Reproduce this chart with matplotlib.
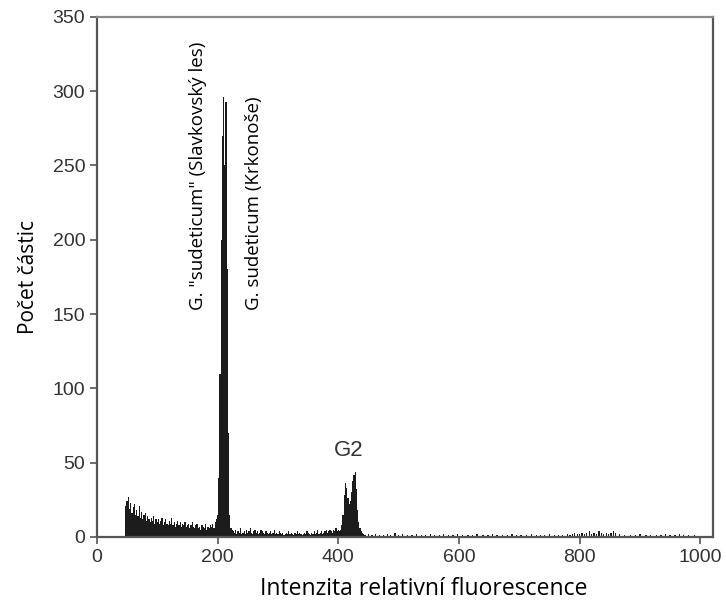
import numpy as np
import matplotlib.pyplot as plt

# histogram counts, channel step of 2
left_start = 48
left_counts = [21, 24, 27, 19, 23, 16, 20, 22, 15, 18, 14, 21, 13, 17, 12, 15, 16, 11, 14, 12,
               10, 13, 11, 14, 9, 12,
               10, 12, 9, 11, 13, 8, 10, 12, 9, 8, 11, 9, 13, 8, 10, 7, 9, 11, 8, 10,
               7, 9, 8, 10, 7, 8, 9, 6, 8, 10, 7, 6, 8, 9, 6, 7, 5, 8, 7, 6,
               9, 5, 7, 6, 8, 7, 9, 6, 10, 12]

peak_start = 200
peak_counts = [15, 40, 110, 200, 270, 296, 250, 293, 180, 70, 15, 6]

mid_start = 224
mid_counts = [5, 4, 3, 5, 2, 4, 3, 6, 2, 3, 4, 2, 5, 3, 4, 6, 3, 2, 4, 5,
              3, 4, 2, 3, 5, 4, 3, 2, 4, 3, 2, 3, 4, 2, 3, 5, 2, 3, 2, 4,
              3, 2, 3, 1, 2, 3, 2, 4, 2, 3, 2, 1, 3, 2, 4, 2, 3, 2, 1, 2,
              3, 2, 4, 3, 2, 1, 3, 2, 4, 2, 3, 5, 2, 3, 4, 2, 3, 4, 5, 3, 4, 5]

g2_start = 388
g2_counts = [4, 3, 5, 4, 6, 4, 5, 4, 5, 8, 15, 28, 36, 33, 26, 22, 24, 30, 38, 42,
             44, 32, 18, 10, 6, 4, 3, 2, 1]

tail_channels = [450, 456, 462, 468, 475, 481, 487, 494, 500, 507, 515, 522, 530, 538, 545,
                 553, 560, 568, 575, 583, 590, 598, 606, 615, 622, 630, 640, 648, 655, 663,
                 672, 680, 688, 695, 703, 712, 720, 728, 735, 742, 750, 758, 765, 772, 780,
                 784, 788, 792, 796, 800, 804, 808, 812, 816, 820, 824, 828, 832, 836, 840,
                 844, 848, 852, 856, 860, 866, 875, 884, 892, 900, 910, 918, 928, 935, 942,
                 950, 958, 965, 972, 980, 990]
tail_counts = [2, 1, 2, 1, 1, 2, 1, 3, 1, 2, 1, 1, 2, 1, 1,
               2, 1, 1, 2, 1, 1, 2, 1, 1, 1, 2, 1, 1, 2, 1,
               1, 1, 2, 1, 1, 1, 2, 1, 1, 1, 2, 1, 1, 1, 2,
               1, 2, 3, 2, 2, 3, 2, 3, 4, 2, 3, 2, 4, 3, 2,
               3, 2, 3, 4, 3, 2, 1, 1, 1, 2, 1, 1, 1, 1, 2,
               1, 1, 2, 1, 1, 1]

x_ticks = [0, 200, 400, 600, 800, 1000]
y_ticks = [0, 50, 100, 150, 200, 250, 300, 350]


def seg(start, vals):
    return start + 2 * np.arange(len(vals)), np.array(vals)


fig = plt.figure(figsize=(7.26, 6.03), dpi=100)
ax = fig.add_axes([0.1336, 0.1095, 0.8484, 0.8625])

bar_col = '#1c1c1c'
for start, vals in [(left_start, left_counts), (peak_start, peak_counts),
                    (mid_start, mid_counts), (g2_start, g2_counts)]:
    xs, ys = seg(start, vals)
    ax.bar(xs, ys, width=2.2, color=bar_col, linewidth=0)
ax.bar(tail_channels, tail_counts, width=2, color=bar_col, linewidth=0)

ax.set_xlim(0, 1021)
ax.set_ylim(0, 350)
ax.set_xticks(x_ticks)
ax.set_yticks(y_ticks)

for s in ax.spines.values():
    s.set_color('#555555')
    s.set_linewidth(1.6)
ax.spines['top'].set_color('#8a8a8a')
ax.tick_params(direction='out', length=5, width=1.2, color='#555555',
               labelsize=14, labelcolor='#333333')
for lab in ax.get_xticklabels() + ax.get_yticklabels():
    lab.set_family('Liberation Sans')

ax.set_xlabel('Intenzita relativní fluorescence', family='Open Sans', fontsize=16.5)
ax.xaxis.set_label_coords(0.531, -0.077)
ax.set_ylabel('Počet částic', family='Open Sans', fontsize=15, labelpad=10)

ax.text(167, 153, 'G. "sudeticum" (Slavkovský les)', rotation=90, ha='center', va='bottom',
        family='Open Sans', fontsize=13.5)
ax.text(260, 153, 'G. sudeticum (Krkonoše)', rotation=90, ha='center', va='bottom',
        family='Open Sans', fontsize=13.5)
ax.text(418, 58, 'G2', ha='center', va='center', family='Liberation Sans', fontsize=16,
        color='#333333')

fig.savefig('out.png', dpi=100)
